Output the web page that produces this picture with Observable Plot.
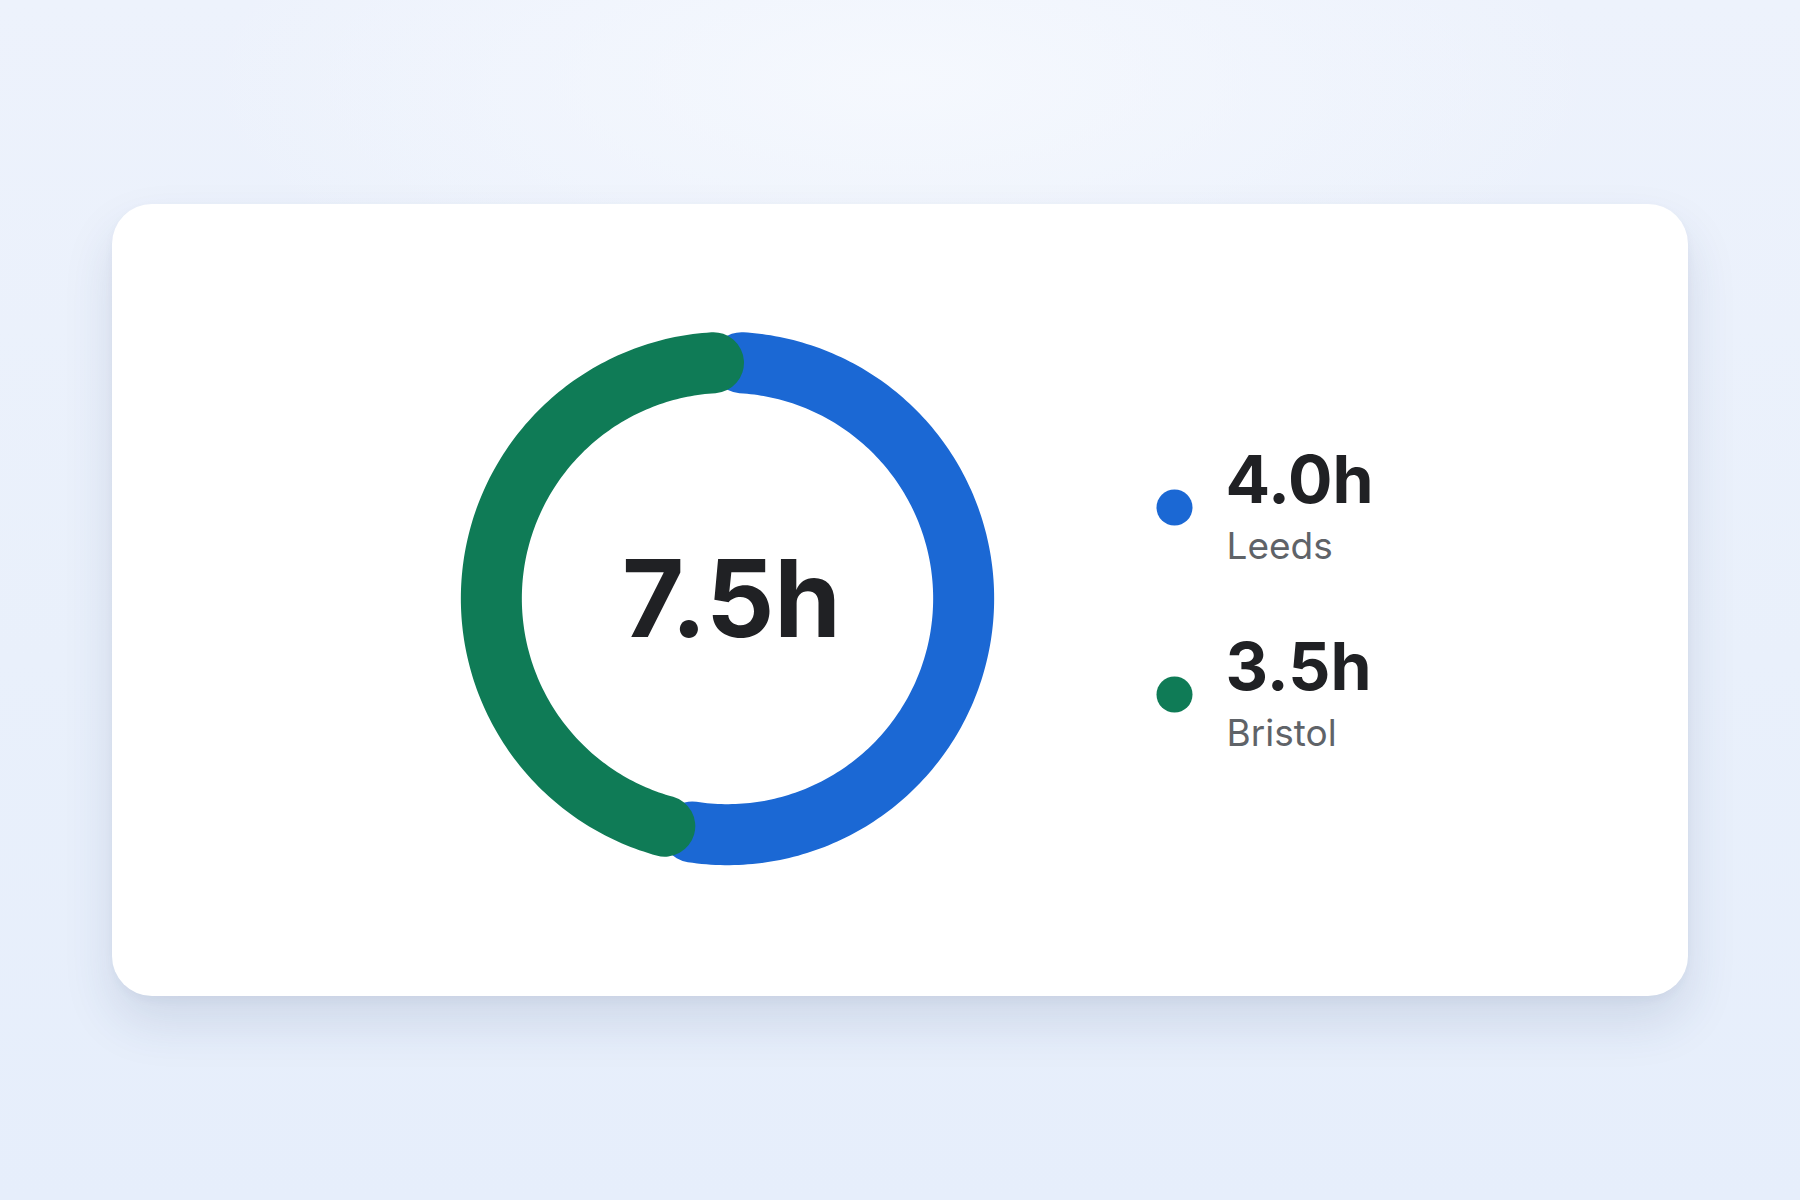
<!DOCTYPE html>
<html>
<head>
<meta charset="utf-8">
<script src="https://cdn.jsdelivr.net/npm/d3@7"></script>
<script src="https://cdn.jsdelivr.net/npm/@observablehq/plot@0.6"></script>
<style>
  html, body { margin: 0; padding: 0; }
  body {
    width: 1800px; height: 1200px; position: relative; overflow: hidden;
    font-family: Inter, "Noto Sans", sans-serif;
    background:
      radial-gradient(ellipse 700px 260px at 900px 80px, rgba(246,249,254,0.9), rgba(246,249,254,0) 100%),
      linear-gradient(180deg, #edf2fc 0%, #e9f0fb 55%, #e6eefb 100%);
  }
  #card {
    position: absolute; left: 112px; top: 204px; width: 1576px; height: 792px;
    background: #ffffff; border-radius: 40px;
    box-shadow: 0 26px 50px rgba(40, 60, 110, 0.13), 0 4px 10px rgba(40,60,110,0.04);
  }
  #donut { position: absolute; left: 308px; top: 87px; }
  #legend { position: absolute; left: 1028px; top: 196px; }
  svg { overflow: visible; }
</style>
</head>
<body>
<div id="card">
  <div id="donut"></div>
  <div id="legend"></div>
</div>
<script>
// ---- data ----
const cities = ["Leeds", "Bristol"];
const hours = [4.0, 3.5];
const colors = ["#1b68d4", "#0f7b56"];
const unit = "h";

const total = d3.sum(hours);
const padDeg = 3.4;

// arc segments built from the values (angles from cumulative share)
const segments = [];
let acc = 0;
cities.forEach((name, i) => {
  const a0 = (acc / total) * 360 + padDeg;
  acc += hours[i];
  const a1 = (acc / total) * 360 - padDeg;
  const n = Math.max(2, Math.ceil((a1 - a0) / 1));
  for (let k = 0; k <= n; k++) {
    const deg = a0 + (a1 - a0) * k / n;
    const rad = deg * Math.PI / 180;
    segments.push({name, color: colors[i], x: Math.sin(rad), y: Math.cos(rad)});
  }
});

const size = 614;
const donut = Plot.plot({
  width: size, height: size,
  margin: 0,
  x: {domain: [-1.3, 1.3], axis: null},
  y: {domain: [-1.3, 1.3], axis: null},
  style: {background: "transparent", overflow: "visible"},
  marks: [
    Plot.line(segments, {
      x: "x", y: "y", z: "name", stroke: "color",
      strokeWidth: 61, strokeLinecap: "round", strokeLinejoin: "round", curve: "linear"
    }),
    Plot.text([total], {
      x: () => 0, y: () => 0,
      text: d => d.toFixed(1) + unit,
      fontSize: 107, fontWeight: 700, fill: "#202124",
      fontFamily: "Inter, sans-serif", dx: 4, dy: 4
    })
  ]
});
document.getElementById("donut").appendChild(donut);

// ---- legend ----
const legendData = cities.map((name, i) => ({name, value: hours[i], color: colors[i]}));
const legend = Plot.plot({
  width: 420, height: 400,
  margin: 0,
  x: {domain: [0, 1], range: [34, 420], axis: null},
  y: {type: "point", domain: cities, range: [107, 294], padding: 0, axis: null},
  style: {background: "transparent", overflow: "visible"},
  marks: [
    Plot.dot(legendData, {x: () => 0, y: "name", r: 18, fill: "color", stroke: null}),
    Plot.text(legendData, {
      x: () => 0, y: "name", text: d => d.value.toFixed(1) + unit,
      textAnchor: "start", dx: 51, dy: -26,
      fontSize: 66, fontWeight: 700, fill: "#202124", fontFamily: "Inter, sans-serif"
    }),
    Plot.text(legendData, {
      x: () => 0, y: "name", text: "name",
      textAnchor: "start", dx: 52, dy: 40,
      fontSize: 37, fontWeight: 400, fill: "#5f6368", fontFamily: "Inter, sans-serif",
      letterSpacing: "0.5px"
    })
  ]
});
document.getElementById("legend").appendChild(legend);
</script>
</body>
</html>
